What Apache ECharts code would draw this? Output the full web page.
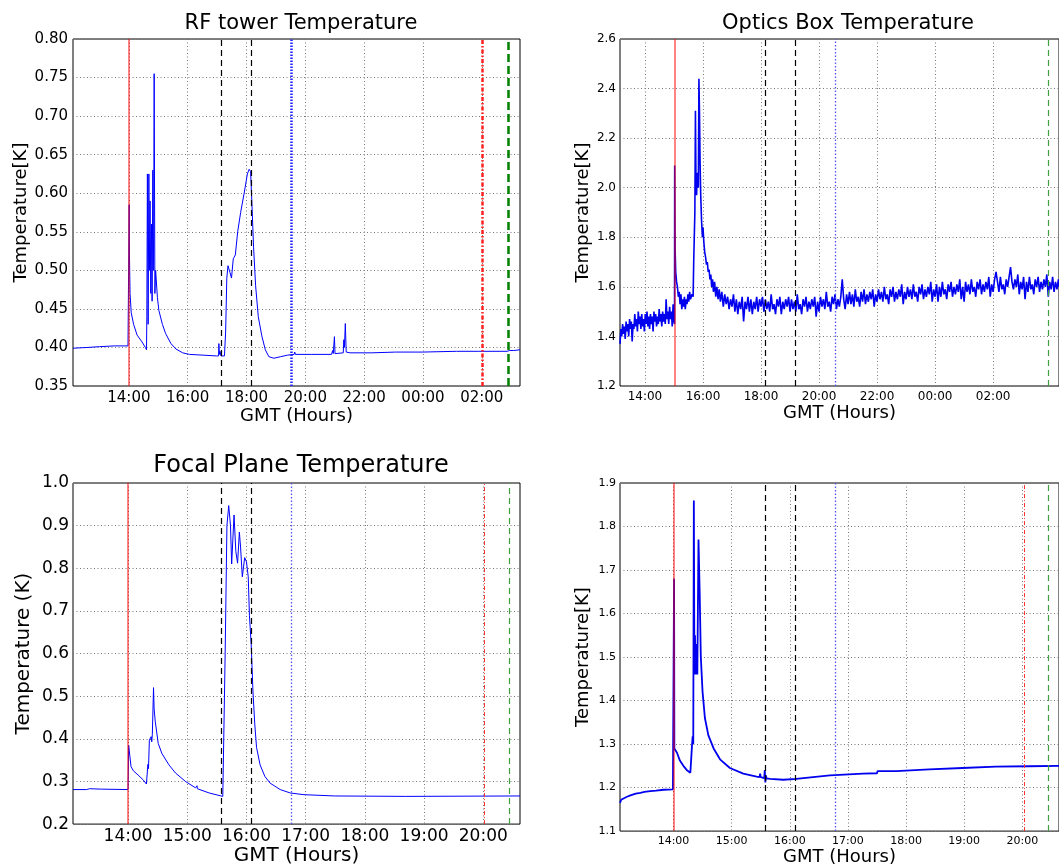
<!DOCTYPE html>
<html><head><meta charset="utf-8">
<script src="https://cdn.jsdelivr.net/npm/echarts@6/dist/echarts.min.js"></script>
<style>html,body{margin:0;padding:0;background:#fff}#c{width:1059px;height:867px}</style>
</head><body><div id="c"></div>
<script>
// ---------- DATA (time in hours GMT, >24 = next day) ----------
const rfTitle = 'RF tower Temperature';
const rfTicks = [14,16,18,20,22,24,26];
const rfData = [[12.10,0.399],[12.60,0.400],[13.00,0.401],[13.01,0.403],[13.03,0.401],[13.50,0.402],[13.97,0.402],[14.00,0.403],[14.01,0.585],[14.02,0.52],[14.04,0.47],[14.08,0.445],[14.16,0.430],[14.28,0.416],[14.45,0.407],[14.56,0.400],[14.60,0.397],[14.61,0.44],[14.63,0.625],[14.655,0.43],[14.68,0.625],[14.70,0.50],[14.72,0.59],[14.745,0.47],[14.77,0.56],[14.79,0.46],[14.815,0.63],[14.83,0.50],[14.845,0.55],[14.86,0.755],[14.885,0.47],[14.91,0.50],[14.97,0.465],[15.02,0.448],[15.14,0.430],[15.25,0.418],[15.43,0.405],[15.60,0.398],[15.83,0.393],[16.06,0.391],[16.52,0.390],[16.98,0.389],[17.05,0.389],[17.06,0.405],[17.08,0.391],[17.10,0.395],[17.13,0.389],[17.25,0.389],[17.29,0.42],[17.33,0.49],[17.37,0.506],[17.44,0.497],[17.49,0.490],[17.55,0.515],[17.62,0.52],[17.70,0.55],[17.80,0.575],[17.92,0.60],[18.03,0.625],[18.09,0.631],[18.14,0.628],[18.18,0.59],[18.24,0.53],[18.31,0.48],[18.40,0.44],[18.52,0.415],[18.64,0.397],[18.76,0.388],[18.93,0.386],[19.16,0.388],[19.39,0.390],[19.62,0.391],[19.64,0.394],[19.66,0.391],[20.20,0.391],[20.89,0.391],[20.93,0.396],[20.95,0.392],[20.99,0.414],[21.01,0.392],[21.29,0.393],[21.31,0.41],[21.33,0.40],[21.36,0.431],[21.39,0.394],[21.52,0.393],[22.26,0.393],[23.07,0.394],[23.99,0.394],[25.14,0.395],[25.88,0.395],[25.89,0.397],[25.91,0.395],[26.86,0.395],[26.92,0.397],[26.95,0.396],[27.09,0.396],[27.15,0.397],[27.30,0.397]];
const rfEventTimes = [14.00, 17.13, 18.16, 19.53, 26.03, 26.89];

const opticsTitle = 'Optics Box Temperature';
const opticsTicks = [14,16,18,20,22,24,26];
const opticsData = [[13.14,1.37],[13.17,1.43],[13.20,1.40],[13.23,1.45],[13.26,1.41],[13.29,1.44],[13.32,1.39],[13.35,1.46],[13.38,1.42],[13.41,1.45],[13.44,1.40],[13.47,1.47],[13.50,1.43],[13.53,1.46],[13.56,1.38],[13.59,1.45],[13.62,1.43],[13.65,1.49],[13.68,1.44],[13.71,1.47],[13.74,1.42],[13.77,1.50],[13.80,1.45],[13.83,1.48],[13.86,1.43],[13.89,1.49],[13.92,1.44],[13.95,1.47],[13.98,1.42],[14.01,1.49],[14.04,1.45],[14.07,1.50],[14.10,1.44],[14.13,1.48],[14.16,1.43],[14.19,1.49],[14.22,1.45],[14.25,1.48],[14.28,1.42],[14.31,1.50],[14.34,1.46],[14.37,1.49],[14.40,1.44],[14.43,1.48],[14.46,1.45],[14.49,1.51],[14.52,1.46],[14.55,1.49],[14.58,1.44],[14.61,1.50],[14.64,1.46],[14.67,1.49],[14.70,1.45],[14.73,1.55],[14.76,1.47],[14.79,1.50],[14.82,1.45],[14.85,1.52],[14.88,1.47],[14.91,1.50],[14.94,1.44],[14.97,1.53],[15.00,1.46],[15.02,1.45],[15.025,2.09],[15.04,1.75],[15.06,1.66],[15.09,1.62],[15.12,1.60],[15.15,1.56],[15.18,1.58],[15.21,1.53],[15.24,1.57],[15.27,1.51],[15.30,1.55],[15.33,1.52],[15.36,1.56],[15.39,1.51],[15.42,1.55],[15.45,1.53],[15.48,1.57],[15.51,1.54],[15.54,1.58],[15.57,1.55],[15.62,1.57],[15.66,1.56],[15.68,1.70],[15.70,1.80],[15.72,1.90],[15.74,2.31],[15.76,2.00],[15.78,1.97],[15.80,2.06],[15.82,2.03],[15.84,2.00],[15.86,2.44],[15.88,2.30],[15.90,2.10],[15.92,1.98],[15.95,1.87],[15.98,1.80],[16.00,1.84],[16.03,1.78],[16.06,1.74],[16.09,1.72],[16.12,1.69],[16.15,1.70],[16.18,1.66],[16.21,1.67],[16.24,1.63],[16.27,1.65],[16.30,1.60],[16.33,1.63],[16.36,1.58],[16.40,1.62],[16.44,1.56],[16.48,1.60],[16.52,1.55],[16.56,1.59],[16.60,1.54],[16.65,1.58],[16.70,1.52],[16.75,1.57],[16.80,1.53],[16.85,1.56],[16.90,1.51],[16.95,1.55],[17.00,1.52],[17.05,1.57],[17.10,1.50],[17.15,1.55],[17.20,1.49],[17.25,1.54],[17.30,1.51],[17.35,1.56],[17.40,1.46],[17.45,1.54],[17.50,1.51],[17.55,1.56],[17.60,1.50],[17.65,1.55],[17.70,1.49],[17.75,1.54],[17.80,1.51],[17.85,1.56],[17.90,1.50],[17.95,1.55],[18.00,1.52],
[18.05,1.56],[18.10,1.50],[18.15,1.55],[18.20,1.51],[18.25,1.54],[18.30,1.50],[18.35,1.57],[18.40,1.51],[18.45,1.53],[18.50,1.49],[18.55,1.55],[18.60,1.52],[18.65,1.56],[18.70,1.49],[18.75,1.54],[18.80,1.51],[18.85,1.55],[18.90,1.52],[18.95,1.56],[19.00,1.50],
[19.05,1.55],[19.10,1.51],[19.15,1.54],[19.20,1.50],[19.25,1.57],[19.30,1.51],[19.35,1.53],[19.40,1.49],[19.45,1.55],[19.50,1.52],[19.55,1.56],[19.60,1.50],[19.65,1.54],[19.70,1.51],[19.75,1.55],[19.80,1.52],[19.85,1.56],[19.90,1.48],[19.95,1.54],[20.00,1.50],
[20.05,1.56],[20.10,1.52],[20.15,1.55],[20.20,1.51],[20.25,1.58],[20.30,1.52],[20.35,1.54],[20.40,1.50],[20.45,1.56],[20.50,1.53],[20.55,1.57],[20.60,1.51],[20.65,1.55],[20.70,1.52],[20.75,1.56],[20.80,1.63],[20.85,1.55],[20.90,1.51],[20.95,1.57],[21.00,1.53],
[21.05,1.58],[21.10,1.53],[21.15,1.57],[21.20,1.52],[21.25,1.59],[21.30,1.54],[21.35,1.56],[21.40,1.52],[21.45,1.58],[21.50,1.54],[21.55,1.59],[21.60,1.53],[21.65,1.57],[21.70,1.54],[21.75,1.58],[21.80,1.55],[21.85,1.59],[21.90,1.52],[21.95,1.57],[22.00,1.54],
[22.05,1.59],[22.10,1.55],[22.15,1.58],[22.20,1.54],[22.25,1.60],[22.30,1.55],[22.35,1.57],[22.40,1.53],[22.45,1.59],[22.50,1.56],[22.55,1.60],[22.60,1.54],[22.65,1.58],[22.70,1.55],[22.75,1.59],[22.80,1.56],[22.85,1.61],[22.90,1.53],[22.95,1.58],[23.00,1.55],
[23.05,1.60],[23.10,1.56],[23.15,1.59],[23.20,1.55],[23.25,1.61],[23.30,1.56],[23.35,1.58],[23.40,1.54],[23.45,1.60],[23.50,1.57],[23.55,1.61],[23.60,1.55],[23.65,1.59],[23.70,1.56],[23.75,1.60],[23.80,1.57],[23.85,1.62],[23.90,1.54],[23.95,1.59],[24.00,1.56],
[24.05,1.61],[24.10,1.54],[24.15,1.60],[24.20,1.56],[24.25,1.62],[24.30,1.57],[24.35,1.59],[24.40,1.55],[24.45,1.61],[24.50,1.58],[24.55,1.62],[24.60,1.56],[24.65,1.60],[24.70,1.57],[24.75,1.61],[24.80,1.58],[24.85,1.63],[24.90,1.55],[24.95,1.60],[25.00,1.54],
[25.05,1.62],[25.10,1.58],[25.15,1.61],[25.20,1.57],[25.25,1.63],[25.30,1.58],[25.35,1.60],[25.40,1.56],[25.45,1.62],[25.50,1.59],[25.55,1.63],[25.60,1.57],[25.65,1.61],[25.70,1.58],[25.75,1.62],[25.80,1.59],[25.85,1.64],[25.90,1.56],[25.95,1.61],[26.00,1.58],
[26.05,1.63],[26.10,1.66],[26.15,1.62],[26.20,1.58],[26.25,1.64],[26.30,1.59],[26.35,1.61],[26.40,1.57],[26.45,1.63],[26.50,1.60],[26.55,1.64],[26.60,1.68],[26.65,1.62],[26.70,1.59],[26.75,1.63],[26.80,1.60],[26.85,1.65],[26.90,1.57],[26.95,1.62],[27.00,1.59],
[27.05,1.64],[27.10,1.55],[27.15,1.62],[27.20,1.58],[27.25,1.64],[27.30,1.59],[27.35,1.61],[27.40,1.57],[27.45,1.63],[27.50,1.60],[27.55,1.64],[27.60,1.58],[27.65,1.62],[27.70,1.59],[27.75,1.63],[27.80,1.60],[27.85,1.65],[27.90,1.56],[27.95,1.62],[28.00,1.59],
[28.05,1.64],[28.10,1.58],[28.15,1.62],[28.20,1.59],[28.25,1.63],[28.27,1.60]];
const opticsEventTimes = [15.02, 18.15, 19.18, 20.55, 27.89];

const focalTitle = 'Focal Plane Temperature';
const focalTicks = [14,15,16,17,18,19,20];
const focalData = [[13.07,0.281],[13.30,0.281],[13.35,0.283],[13.37,0.281],[13.55,0.282],[13.57,0.281],[14.00,0.281],[14.01,0.385],[14.03,0.36],[14.05,0.335],[14.09,0.325],[14.17,0.315],[14.26,0.303],[14.31,0.294],[14.33,0.290],[14.335,0.34],[14.345,0.33],[14.36,0.397],[14.38,0.40],[14.39,0.405],[14.40,0.393],[14.41,0.41],[14.43,0.52],[14.44,0.47],[14.46,0.44],[14.51,0.389],[14.57,0.366],[14.69,0.339],[14.80,0.32],[14.97,0.30],[15.14,0.285],[15.16,0.283],[15.165,0.29],[15.17,0.283],[15.37,0.273],[15.60,0.265],[15.63,0.264],[15.64,0.60],[15.67,0.90],[15.70,0.947],[15.73,0.90],[15.75,0.81],[15.79,0.925],[15.82,0.84],[15.85,0.812],[15.88,0.885],[15.90,0.85],[15.93,0.78],[15.97,0.825],[16.00,0.815],[16.03,0.78],[16.05,0.69],[16.08,0.62],[16.11,0.51],[16.14,0.435],[16.17,0.38],[16.23,0.339],[16.31,0.312],[16.40,0.296],[16.57,0.281],[16.74,0.273],[16.97,0.269],[17.49,0.266],[18.69,0.265],[20.62,0.266]];
const focalEventTimes = [14.00, 15.57, 16.08, 16.76, 20.01, 20.43];

const fourthTicks = [14,15,16,17,18,19,20];
const fourthData = [[13.08,1.165],[13.10,1.172],[13.14,1.175],[13.20,1.179],[13.26,1.182],[13.35,1.186],[13.43,1.188],[13.50,1.190],[13.60,1.192],[13.70,1.193],[13.83,1.195],[13.99,1.196],[14.00,1.196],[14.01,1.68],[14.015,1.29],[14.06,1.28],[14.11,1.262],[14.17,1.250],[14.23,1.240],[14.29,1.234],[14.31,1.232],[14.32,1.30],[14.33,1.318],[14.34,1.30],[14.35,1.86],[14.36,1.46],[14.37,1.55],[14.38,1.46],[14.39,1.53],[14.41,1.46],[14.43,1.77],[14.45,1.65],[14.47,1.50],[14.50,1.42],[14.54,1.36],[14.60,1.32],[14.69,1.29],[14.80,1.265],[14.97,1.245],[15.20,1.232],[15.43,1.225],[15.48,1.224],[15.49,1.232],[15.50,1.224],[15.56,1.222],[15.57,1.24],[15.58,1.212],[15.59,1.228],[15.60,1.221],[15.66,1.220],[15.89,1.218],[16.11,1.220],[16.69,1.228],[17.26,1.232],[17.50,1.233],[17.51,1.238],[17.83,1.238],[18.40,1.242],[18.97,1.245],[19.54,1.248],[20.11,1.249],[20.63,1.250]];
const fourthEventTimes = [14.01, 15.58, 16.09, 16.78, 20.03, 20.45];

const eventKinds = ['start','dash','dash','dot','dashdot','green'];
const opticsEventKinds = ['start','dash','dash','dot','green'];

// ---------- STYLE / LAYOUT ----------
const FONT = 'DejaVu Sans';
function hh(v){ return String(Math.round(v) % 24).padStart(2,'0') + ':00'; }

function styleFor(kind, bold){
  switch(kind){
    case 'start': return {color:'rgba(255,0,0,0.65)', width:1.5, type:'solid'};
    case 'dash': return {color:'#000', width:1.2, type:[6,4]};
    case 'dot': return bold ? {color:'#2020ff', width:2.5, type:[1.5,1.5]} : {color:'#5555ff', width:1.3, type:[1.5,2]};
    case 'dashdot': return bold ? {color:'#ff2020', width:2.5, type:[4,2,1.5,2]} : {color:'#ff3030', width:1, type:[4,2,1,2]};
    case 'green': return bold ? {color:'#008000', width:2.5, type:[8,4]} : {color:'#40a040', width:1.2, type:[6,4]};
  }
}
function eventLines(times, kinds, bold){
  return {
    silent:true, symbol:['none','none'], label:{show:false}, animation:false,
    data: times.map((t,i)=>({xAxis:t, lineStyle:styleFor(kinds[i], bold)}))
  };
}
const gridLine = {show:true, lineStyle:{color:'#777', width:1, type:[1,2.5]}};

function xAx(gi, min, max, ticks, fs, nfs, gap, margin){
  return {
    type:'value', gridIndex:gi, min:min, max:max,
    name:'GMT (Hours)', nameLocation:'middle', nameGap:gap,
    nameTextStyle:{fontFamily:FONT, fontSize:nfs, color:'#000'},
    axisLine:{show:false}, axisTick:{show:false, customValues:ticks},
    axisLabel:{customValues:ticks, formatter:hh, fontFamily:FONT, fontSize:fs, color:'#000', margin:margin},
    splitLine:gridLine
  };
}
function yAx(gi, min, max, step, dec, fs, name, nfs, gap, margin){
  return {
    type:'value', gridIndex:gi, min:min, max:max, interval:step,
    name:name, nameLocation:'middle', nameGap:gap, nameRotate:90,
    nameTextStyle:{fontFamily:FONT, fontSize:nfs, color:'#000'},
    axisLine:{show:false}, axisTick:{show:false},
    axisLabel:{formatter:v=>v.toFixed(dec), fontFamily:FONT, fontSize:fs, color:'#000', margin:margin},
    splitLine:gridLine
  };
}
const gbox = {show:true, borderColor:'#000', borderWidth:1, backgroundColor:'#fff'};

const option = {
  animation:false,
  backgroundColor:'#fff',
  title:[
    {text:rfTitle, left:296, top:8, textAlign:'center', textStyle:{fontFamily:FONT, fontSize:21, fontWeight:'normal', color:'#000'}},
    {text:opticsTitle, left:843, top:8, textAlign:'center', textStyle:{fontFamily:FONT, fontSize:21, fontWeight:'normal', color:'#000'}},
    {text:focalTitle, left:296, top:449, textAlign:'center', textStyle:{fontFamily:FONT, fontSize:24, fontWeight:'normal', color:'#000'}}
  ],
  grid:[
    Object.assign({left:73, top:39, width:447, height:347}, gbox),
    Object.assign({left:620, top:39, width:447, height:347}, gbox),
    Object.assign({left:73, top:483, width:447, height:349}, gbox),
    Object.assign({left:620, top:483, width:447, height:349}, gbox)
  ],
  xAxis:[
    xAx(0, 12.10, 27.30, rfTicks, 15, 18, 17, 5),
    xAx(1, 13.14, 28.27, opticsTicks, 12, 18, 15, 5),
    xAx(2, 13.07, 20.62, focalTicks, 17, 20, 16, 4),
    xAx(3, 13.08, 20.63, fourthTicks, 11, 18, 14, 5)
  ],
  yAxis:[
    yAx(0, 0.35, 0.80, 0.05, 2, 15, 'Temperature[K]', 18, 42, 5),
    yAx(1, 1.2, 2.6, 0.2, 1, 12, 'Temperature[K]', 18, 28, 4),
    yAx(2, 0.2, 1.0, 0.1, 1, 17, 'Temperature (K)', 20, 39, 4),
    yAx(3, 1.1, 1.9, 0.1, 1, 11, 'Temperature[K]', 18, 28, 4)
  ],
  series:[
    {type:'line', xAxisIndex:0, yAxisIndex:0, data:rfData, showSymbol:false, lineStyle:{color:'#0000ff', width:1}, markLine:eventLines(rfEventTimes, eventKinds, true)},
    {type:'line', xAxisIndex:1, yAxisIndex:1, data:opticsData, showSymbol:false, lineStyle:{color:'#0000ee', width:1.6}, markLine:eventLines(opticsEventTimes, opticsEventKinds, false)},
    {type:'line', xAxisIndex:2, yAxisIndex:2, data:focalData, showSymbol:false, lineStyle:{color:'#0000ff', width:1}, markLine:eventLines(focalEventTimes, eventKinds, false)},
    {type:'line', xAxisIndex:3, yAxisIndex:3, data:fourthData, showSymbol:false, lineStyle:{color:'#0000ee', width:1.8}, markLine:eventLines(fourthEventTimes, eventKinds, false)}
  ]
};
const chart = echarts.init(document.getElementById('c'), null, {renderer:'canvas'});
chart.setOption(option);
</script></body></html>
